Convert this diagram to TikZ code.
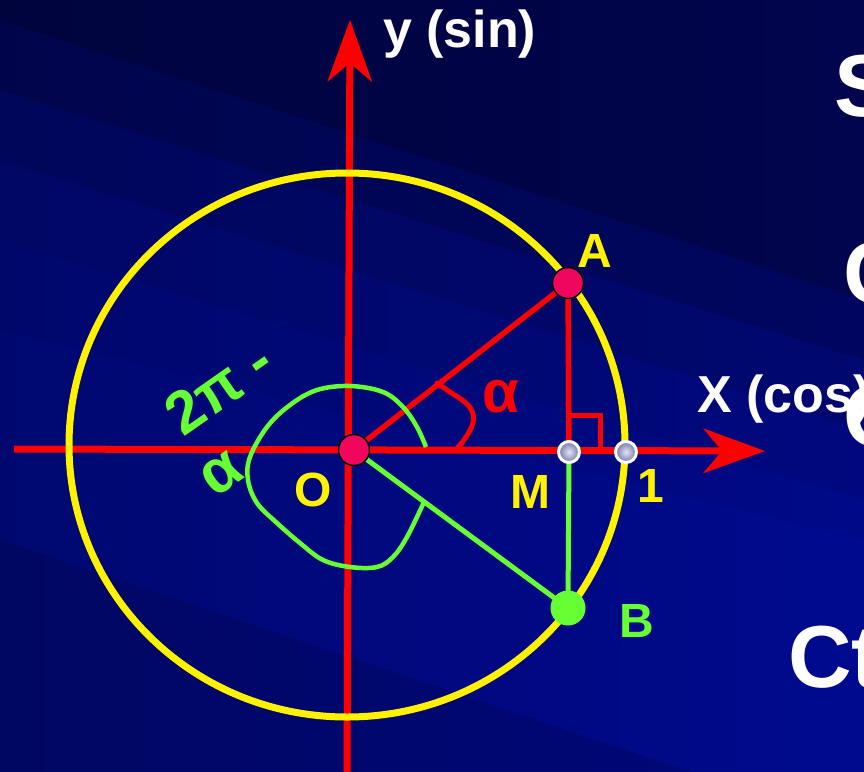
\documentclass[tikz,border=0pt]{standalone}
\usepackage{fontspec}
\setmainfont{Liberation Sans}
\usetikzlibrary{arrows.meta,backgrounds}
\definecolor{bgL}{HTML}{000870}
\definecolor{bgR}{HTML}{000A8E}
\definecolor{dotred}{HTML}{F0065C}
\definecolor{lgreen}{HTML}{66FF33}
\definecolor{dotin}{HTML}{E4E4F4}
\definecolor{dotout}{HTML}{7078AC}
\begin{document}
\begin{tikzpicture}[x=1pt,y=-1pt,
  axis/.style={red, line width=7pt, -{Stealth[length=62pt,width=45pt,inset=19pt,line width=0pt]}},
  redln/.style={red, line width=5.5pt},
  grnln/.style={lgreen, line width=5pt},
  bigdot/.style={circle, inner sep=0pt, minimum size=31pt, fill=dotred, draw=black, line width=1.5pt},
  smalldot/.style={circle, inner sep=0pt, minimum size=21pt, draw=white, line width=3pt, inner color=dotin, outer color=dotout},
  lab/.style={font=\fontsize{48}{50}\selectfont\bfseries, inner sep=0pt},
  axlab/.style={font=\fontsize{52}{54}\selectfont\bfseries, text=white, inner sep=0pt, anchor=base west},
  bigtxt/.style={font=\fontsize{88}{90}\selectfont\bfseries, text=white, inner sep=0pt, anchor=base west},
]
\useasboundingbox (0,0) rectangle (864,771);
\clip (0,0) rectangle (864,771);

% points
\node[bigdot] (O) at (354,450) {};
\node[bigdot] (A) at (568,283) {};
\node[smalldot] (M) at (569,452) {};
\node[smalldot] (one) at (626,452) {};
\node[circle, fill=lgreen, minimum size=35pt, inner sep=0pt] (B) at (568,608) {};
\coordinate (xl) at (14,449);
\coordinate (xr) at (765,451);
\coordinate (yb) at (347,775);
\coordinate (yt) at (350,20);

\begin{pgfonlayer}{background}
  % background
  \shade[left color=bgL, right color=bgR] (0,0) rectangle (864,771);
  \fill[black, opacity=.45] (0,-400) -- (864,-400) -- (864,300) -- (0,20) -- cycle;
  \fill[black, opacity=.32] (0,20) -- (864,300) -- (864,360) -- (0,90) -- cycle;
  \fill[black, opacity=.2]  (0,90) -- (864,360) -- (864,430) -- (0,160) -- cycle;
  \fill[black, opacity=.1]  (0,160) -- (864,430) -- (864,500) -- (0,240) -- cycle;
  \fill[black, opacity=.04] (0,240) -- (864,500) -- (864,540) -- (0,330) -- cycle;
  \fill[black, opacity=.12] (0,540) -- (864,830) -- (864,1200) -- (0,1200) -- cycle;
  % axes
  \draw[axis] (xl) -- (xr);
  \draw[axis] (yb) -- (yt);
  % unit circle
  \draw[yellow, line width=7pt] (347,445) ellipse [x radius=278, y radius=272];
  % segments
  \draw[redln] (O.center) -- (A.center);
  \draw[redln] (A.center) -- (M.center);
  \draw[red, line width=5pt] (569,415) -- (600,415) -- (600,448);
  \draw[grnln] (O.center) -- (B.center);
  \draw[grnln] (M.center) -- (B.center);
  % angle arcs
  \draw[red, line width=5pt, line cap=round] plot[smooth, tension=.6] coordinates
    {(437,383) (450,392) (466,403) (473,414) (472,426) (464,440) (458,447)};
  \draw[lgreen, line width=4.5pt] plot[smooth, tension=.6] coordinates
    {(426,447) (417,427) (403,407) (383,392) (350,386) (317,390) (290,405) (267,427)
     (250,457) (248,480) (257,503) (277,523) (300,543) (323,560) (350,567) (377,567)
     (393,557) (407,537) (424,502)};
\end{pgfonlayer}

% labels
\node[axlab] (ylab) at (383,47) {y (sin)};
\node[axlab] (xlab) at (697,412) {X (cos)};
\node[lab, text=yellow] (Alab) at (595,251) {A};
\node[lab, text=yellow] (Mlab) at (530,492) {M};
\node[lab, text=yellow] (onelab) at (651,486) {1};
\node[lab, text=lgreen] (Blab) at (637,621) {B};
\node[lab, text=yellow] (Olab) at (313,490) {O};
\node[lab, text=red, font=\fontsize{60}{62}\selectfont\bfseries] (alab) at (501,397) {α};
\node[lab, text=lgreen, rotate=35, font=\fontsize{60}{62}\selectfont\bfseries] (twopi) at (219,387) {2π -};
\node[lab, text=lgreen, rotate=35, font=\fontsize{62}{64}\selectfont\bfseries] (galpha) at (222,474) {α};

% large partly hidden words at the right edge
\node[bigtxt] (S1) at (834,116) {S};
\node[bigtxt] (C1) at (843,303) {C};
\node[bigtxt] (C2) at (843,446) {C};
\node[bigtxt] (C3) at (788,687) {Ct};
\end{tikzpicture}
\end{document}
